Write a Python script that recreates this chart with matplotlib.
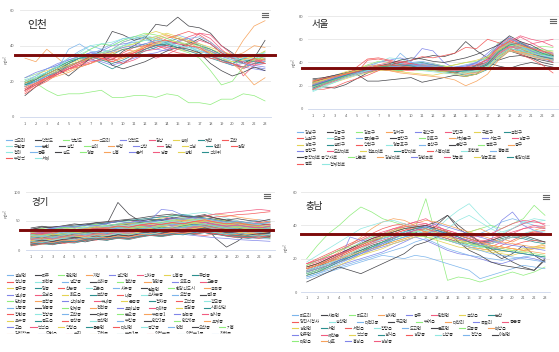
import matplotlib
matplotlib.use("Agg")
import matplotlib.pyplot as plt
from matplotlib.lines import Line2D
from matplotlib.patches import Rectangle

plt.rcParams['font.family'] = ['Noto Sans CJK KR', 'DejaVu Sans']

hours = list(range(1, 24))
palette = ['#7cb5ec', '#434348', '#90ed7d', '#f7a35c', '#8085e9',
           '#f15c80', '#e4d354', '#2b908f', '#f45b5b', '#91e8e1']
limit_value = 35

# ---------------- 인천 ----------------
incheon_names = ['석모리', '덕적도', '백령도', '석모리', '덕적도', '검상', '송해', '계산', '고잔',
                 '구월동', '논현', '송림', '숭의', '부평', '삼산', '검단', '석남', '연희', '원당',
                 '청라', '동춘', '송도', '영종', '신흥', '운서', '남동', '송현', '석바위',
                 '부평역', '서해']
incheon_values = [
    [18,22,25,29,33,37,40,38,36,40,43,44,45,42,46,44,41,38,35,33,31,30,30],
    [15,19,22,26,30,33,35,34,32,37,40,44,52,51,56,51,50,47,40,36,30,33,32],
    [21,19,15,12,13,13,14,15,11,11,12,12,11,13,12,8,8,7,10,10,13,12,9],
    [33,31,38,33,28,31,34,33,36,38,37,40,42,40,38,37,36,37,35,34,36,40,39],
    [20,23,27,30,32,34,36,37,40,41,42,40,38,37,43,44,40,36,33,30,28,27,26],
    [17,20,22,25,27,29,30,33,31,30,32,35,33,35,38,42,47,46,40,35,23,29,33],
    [22,24,26,28,30,32,34,36,38,42,44,46,48,46,44,42,40,38,36,35,34,33,32],
    [19,22,24,27,30,33,33,30,27,30,34,37,39,41,42,40,36,33,31,29,28,30,31],
    [14,18,21,24,27,28,30,33,32,36,39,40,40,38,36,35,34,33,32,30,27,30,35],
    [21,23,25,28,31,35,38,41,40,43,45,46,44,42,40,38,37,36,34,33,34,34,36],
    [17,21,24,27,38,41,37,36,38,42,44,45,43,41,40,39,37,35,32,30,31,32,31],
    [12,17,21,25,28,31,34,37,48,46,43,45,41,40,39,41,44,41,36,33,30,33,43],
    [18,20,23,26,29,31,35,36,37,40,41,43,44,42,38,36,33,26,18,20,28,32,37],
    [16,19,22,24,26,29,33,36,34,33,36,40,43,45,44,43,40,37,34,33,43,51,54],
    [17,20,23,26,29,31,32,31,29,31,33,35,36,38,39,40,38,35,32,29,30,28,27],
    [15,18,21,24,27,30,32,34,33,35,36,37,38,40,42,45,47,44,38,33,30,31,32],
    [20,22,23,26,28,31,33,35,37,39,41,44,45,47,45,43,41,39,37,35,33,32,33],
    [18,20,23,25,29,31,33,34,35,38,39,41,40,42,44,42,40,38,35,33,32,31,30],
    [13,17,20,24,27,30,33,35,33,30,34,38,41,44,46,48,46,42,37,34,33,32,30],
    [22,24,27,29,31,33,35,36,38,40,42,43,42,41,40,39,38,36,35,33,32,33,35],
    [17,20,23,25,28,31,35,38,41,44,45,44,41,39,42,44,45,42,37,33,35,34,33],
    [19,21,24,27,23,28,33,35,29,27,29,31,34,37,39,38,36,30,26,23,25,28,26],
    [20,22,25,28,31,34,38,41,40,43,45,47,46,44,42,41,40,37,33,31,30,32,34],
    [17,19,21,23,25,28,30,32,31,33,35,39,44,46,44,42,38,36,32,30,25,18,22],
    [22,25,27,29,32,34,36,35,37,39,40,41,43,42,41,40,39,37,34,32,30,29,28],
    [16,19,22,24,27,29,31,32,34,35,37,38,40,39,38,40,43,41,36,33,31,29,30],
    [19,21,24,27,29,31,33,35,36,34,37,39,41,43,42,40,39,36,33,31,32,34,37],
    [18,21,25,28,31,33,34,32,30,32,35,38,40,41,39,37,35,34,32,30,33,35,34],
    [15,18,22,25,28,31,34,33,31,34,36,39,42,43,41,40,39,35,31,30,28,33,30],
    [20,22,25,28,33,36,40,41,42,44,44,45,43,42,40,39,37,35,33,32,33,35,36],
]

# ---------------- 서울 ----------------
seoul_names = ['강남구', '강동구', '강북구', '강서구', '관악구', '광진구', '구로구', '금천구',
               '노원구', '도봉구', '동대문구', '동작구', '마포구', '서대문구', '서초구', '성동구',
               '성북구', '송파구', '양천구', '영등포구', '용산구', '은평구', '종로구', '중구',
               '중랑구', '도산대로', '천호대로', '공항대로', '시흥대로', '화랑로', '홍릉로',
               '동작대로 중앙차로', '신촌로', '강남대로', '강변북로', '정릉로', '영등포로', '한강대로',
               '종로', '청계천로']
seoul_values = [
    [20,24,27,30,33,35,36,37,38,36,35,34,33,35,36,38,42,55,58,52,48,45,43],
    [25,26,27,28,30,24,24,25,26,27,23,25,27,29,28,30,40,45,50,47,44,42,40],
    [18,22,26,30,34,38,41,40,38,36,37,38,36,34,33,35,45,57,61,56,52,54,53],
    [22,25,28,31,34,36,35,34,36,38,37,36,33,31,30,33,38,50,56,53,49,46,44],
    [19,23,27,30,33,37,40,42,44,41,52,50,40,35,33,31,36,48,55,50,46,43,41],
    [21,24,26,28,31,33,35,36,35,34,36,37,35,33,31,32,40,52,56,62,57,52,48],
    [24,27,29,32,35,37,38,36,35,37,38,39,37,35,33,34,37,45,52,50,47,44,43],
    [17,21,25,28,31,34,35,34,33,35,34,33,32,31,29,30,34,43,50,48,46,44,42],
    [19,23,26,28,31,42,43,41,39,38,36,35,34,33,32,34,41,53,59,56,52,48,46],
    [16,20,24,28,31,35,40,44,43,40,39,38,36,35,33,32,37,48,55,52,49,46,44],
    [22,25,28,31,33,35,37,38,39,40,41,39,37,36,34,35,38,47,54,51,48,45,43],
    [20,19,18,21,26,31,34,33,36,38,37,35,33,31,33,38,40,37,35,38,40,38,36],
    [21,24,27,30,32,34,36,37,36,35,36,38,37,35,33,34,39,52,60,57,53,51,50],
    [23,26,28,30,33,35,36,35,34,36,37,36,34,33,32,33,36,44,50,49,47,45,44],
    [18,22,26,29,32,34,36,37,38,37,36,35,34,36,37,39,42,50,57,55,50,46,42],
    [24,27,29,31,34,36,38,40,41,39,38,36,35,34,35,37,43,55,61,58,53,49,45],
    [17,20,23,26,29,31,33,34,32,31,30,29,31,30,28,30,35,45,52,50,48,47,46],
    [20,23,26,29,31,33,35,36,37,39,40,38,36,34,35,37,40,50,56,53,50,47,45],
    [19,22,25,28,36,43,44,42,40,39,38,37,36,35,34,33,38,47,53,52,48,45,40],
    [18,21,24,27,30,33,36,38,37,36,35,34,33,32,33,35,38,48,55,53,50,46,44],
    [23,26,29,31,33,35,37,38,39,37,36,35,34,36,38,40,44,52,57,54,50,48,47],
    [26,27,29,31,33,35,36,38,40,42,44,46,45,48,58,50,44,42,45,46,44,40,38],
    [22,25,27,29,31,33,35,34,33,35,36,37,35,33,31,32,37,49,55,52,49,47,46],
    [21,24,27,29,31,33,34,33,32,34,35,34,33,31,30,31,35,44,51,49,46,44,43],
    [19,23,26,29,31,33,35,36,35,37,39,38,36,35,36,40,48,56,62,56,50,46,43],
    [20,24,27,30,32,34,36,37,38,39,37,36,35,34,33,34,38,48,54,53,56,58,54],
    [24,26,28,30,33,35,37,38,36,35,34,33,32,33,34,36,40,50,57,55,51,48,46],
    [18,22,25,28,30,32,34,35,36,38,37,36,34,33,32,34,38,46,52,50,48,45,43],
    [17,17,19,23,26,29,33,37,40,42,45,44,46,48,53,52,60,57,52,47,43,38,31],
    [16,20,23,27,29,32,34,36,37,38,37,36,34,33,32,33,36,44,50,48,46,44,42],
    [20,23,26,29,31,33,35,36,48,40,38,37,35,34,35,36,40,51,57,54,51,48,46],
    [23,26,28,31,33,35,37,39,42,44,43,41,40,42,44,47,51,55,63,58,55,50,46],
    [19,22,25,28,31,34,36,37,38,36,35,34,36,38,40,41,44,52,58,55,51,48,47],
    [22,25,28,30,33,34,35,33,31,30,29,28,27,25,20,24,30,42,50,48,45,43,42],
    [21,24,27,29,31,33,35,36,37,38,37,36,35,36,37,40,46,54,60,57,53,50,48],
    [17,21,24,27,30,32,34,35,34,33,34,35,34,33,34,36,41,52,58,63,60,58,60],
    [23,25,28,31,33,35,37,36,35,34,33,35,36,38,40,42,45,51,56,54,52,50,49],
    [20,23,26,29,32,34,36,37,38,37,35,34,33,32,33,35,39,49,55,57,52,48,45],
    [24,26,28,30,32,35,37,38,37,36,35,34,33,34,36,38,43,53,58,55,52,50,47],
    [15,19,23,27,30,33,35,36,35,34,33,32,31,30,31,33,37,46,52,50,48,46,45],
]

# ---------------- 경기 ----------------
gyeonggi_names = ['설성면', '파주', '관인면', '가평', '설악면', '식사동', '신흥동', '주엽동',
                  '행신동', '과천동', '별양동', '소하동', '철산동', '경안동', '오포읍', '교문동',
                  '동구동', '당동', '산본동', '고촌읍', '사우동', '월곶면', '한강신도시', '금곡동',
                  '별내동', '오남읍', '화도읍', '보산동', '내동', '소사본동', '오정동', '중2동',
                  '단대동', '복정동', '상대원동', '수내동', '운중동', '정자동', '고색동', '광교동',
                  '신풍동', '영통동', '인계동', '천천동', '호매실동', '대야동', '목감동', '시화산단',
                  '장현동', '정왕동', '고잔동', '대부동', '본오동', '부곡동1', '원곡동', '원시동',
                  '호수동', '공도읍', '봉산동', '죽산면', '부림동', '안양2동', '안양6동', '호계동',
                  '고읍', '백석읍', '양평읍', '용문면', '대신면', '중앙동', '연천', '오산동', '기흥',
                  '김량장동', '모현읍', '수지', '고천동', '부곡3동', '의정부동', '의정부1동', '창전동']
gyeonggi_values = [
    [28,30,27,25,29,33,35,38,40,42,45,48,52,50,47,45,43,40,36,33,35,38,40],
    [35,40,38,36,34,38,42,45,82,62,50,48,52,56,48,45,42,20,5,15,28,33,38],
    [15,18,20,22,24,26,28,25,23,27,30,33,35,38,40,42,38,32,28,26,24,22,20],
    [20,22,25,27,30,33,35,36,38,40,43,45,48,50,52,55,58,62,60,57,54,52,48],
    [10,12,15,17,20,21,24,26,27,30,31,34,36,37,40,41,44,42,39,38,35,34,31],
    [30,32,35,38,40,43,45,48,50,47,52,55,58,54,52,50,48,45,42,40,43,47,50],
    [25,27,29,31,33,36,38,40,43,45,47,50,55,60,58,55,53,50,48,46,44,42,40],
    [22,24,26,29,30,32,35,37,39,41,43,45,47,45,43,41,39,37,35,33,31,30,32],
    [18,20,22,25,26,28,30,33,34,36,38,41,42,44,46,48,50,47,44,41,38,36,34],
    [32,34,37,38,40,42,44,47,48,50,52,54,57,58,60,63,65,60,55,50,45,42,40],
    [12,14,17,18,20,23,24,26,29,30,32,35,36,38,41,42,44,46,45,43,40,38,36],
    [26,28,31,33,34,37,40,41,44,46,47,50,53,54,55,58,61,55,51,48,46,44,43],
    [8,10,12,15,17,19,22,24,26,28,31,33,35,37,39,41,43,40,37,34,31,29,27],
    [14,17,19,21,24,27,29,32,34,36,39,41,44,46,48,50,52,49,46,43,40,38,36],
    [20,22,24,26,28,30,32,34,36,37,35,33,31,29,27,25,23,21,20,18,17,16,15],
    [24,26,29,31,33,35,37,40,42,44,47,49,51,53,55,57,59,62,64,66,68,70,68],
    [11,13,15,18,21,23,26,28,30,32,34,36,38,37,35,33,31,29,27,25,23,22,21],
    [30,28,26,28,31,34,37,40,42,45,47,50,52,48,45,42,40,38,36,34,32,33,35],
    [22,20,23,26,29,31,34,36,39,40,42,45,46,48,51,52,54,57,58,61,62,64,66],
    [17,19,22,25,27,30,32,35,38,41,43,47,50,52,56,54,50,46,44,41,37,35,33],
    [9,11,14,17,19,22,24,26,29,31,33,36,38,37,35,33,30,28,25,23,21,20,19],
    [36,38,40,41,43,45,47,49,51,53,55,58,60,62,59,57,55,53,51,49,47,45,44],
    [16,18,21,22,24,27,28,30,33,35,36,39,42,43,45,46,49,47,44,43,41,39,36],
    [13,15,18,20,22,25,27,30,32,34,37,39,42,44,46,44,42,40,38,36,34,32,30],
    [27,29,31,33,35,38,40,42,45,47,50,52,70,68,60,55,50,48,46,44,42,40,38],
    [10,12,14,16,18,21,23,25,27,30,32,34,36,38,40,42,44,43,42,41,40,39,38],
    [19,21,23,25,27,29,31,33,35,37,39,41,43,45,47,49,51,53,50,47,44,41,38],
    [33,35,37,39,41,43,45,47,49,51,53,55,57,59,61,58,55,52,49,46,43,40,37],
    [7,10,12,11,15,18,17,22,21,24,26,25,28,31,30,27,25,28,24,21,22,20,23],
    [21,24,22,27,30,28,33,31,35,38,36,40,43,41,44,42,45,40,37,35,38,34,36],
    [29,31,28,33,36,34,38,41,39,43,46,44,47,50,48,45,43,46,42,39,41,44,40],
    [12,15,13,18,17,21,24,22,26,25,29,31,28,33,35,32,30,27,29,26,24,27,25],
    [18,16,21,20,24,27,25,29,32,30,34,37,35,38,40,43,41,37,34,36,33,31,35],
    [24,27,25,28,32,30,33,36,34,38,40,37,41,44,42,46,48,44,40,42,39,37,41],
    [15,13,18,21,19,23,26,24,27,30,28,31,34,32,36,38,35,32,29,31,28,26,29],
    [31,34,32,30,35,38,36,39,42,40,44,41,45,48,46,43,47,50,46,43,45,48,44],
    [11,14,12,16,19,17,20,23,21,25,24,27,30,28,31,34,32,29,27,24,26,23,25],
    [20,18,23,26,24,27,30,28,32,35,33,36,39,37,40,38,41,37,34,32,35,33,30],
    [26,29,27,31,29,33,35,33,37,35,39,42,40,43,41,45,47,43,40,38,41,39,37],
    [14,17,15,19,22,20,24,27,25,28,31,29,33,36,34,37,35,32,30,27,29,31,28],
    [35,33,37,36,40,38,42,45,43,47,45,48,51,49,53,50,54,51,47,45,48,52,50],
    [9,12,10,13,16,14,18,17,21,20,23,26,24,27,30,28,31,29,26,24,22,25,23],
    [23,21,25,28,26,30,29,33,31,35,38,36,39,37,41,44,42,39,36,38,35,33,36],
    [17,20,18,22,25,23,27,26,30,33,31,34,32,36,39,37,40,36,33,31,28,30,32],
    [28,30,33,31,34,37,35,39,37,41,44,42,45,43,47,45,48,44,41,43,40,38,42],
    [13,11,15,18,16,20,19,23,26,24,27,25,29,32,30,33,31,28,25,27,24,22,25],
    [32,35,33,36,39,37,41,39,43,46,44,47,45,49,52,50,53,48,45,47,44,46,49],
    [19,22,20,24,23,27,30,28,31,29,33,36,34,37,35,39,42,38,35,33,30,32,34],
    [10,13,11,15,18,16,20,19,23,22,26,29,27,30,28,32,35,31,28,26,23,25,27],
    [25,23,27,30,28,32,31,34,37,35,39,38,41,44,42,46,44,40,37,39,36,34,37],
    [15,18,16,20,19,22,25,24,27,30,28,31,29,33,36,34,37,33,30,28,31,29,27],
    [38,41,39,42,45,43,47,46,49,52,50,53,51,55,58,56,59,55,52,54,51,49,53],
    [21,19,24,22,26,29,27,31,30,33,36,34,38,36,40,43,41,37,35,32,34,37,35],
    [12,15,13,17,16,20,22,21,24,27,25,28,26,30,33,31,34,30,27,25,22,24,26],
    [27,30,28,32,35,33,36,34,38,41,39,42,45,43,46,44,48,44,41,43,40,38,41],
    [16,14,18,21,19,23,22,26,29,27,30,33,31,34,32,36,39,35,32,30,27,29,31],
    [30,33,31,34,32,36,39,37,40,43,41,44,42,46,49,47,50,46,43,45,42,40,43],
    [8,11,9,13,12,16,19,17,20,18,22,25,23,26,29,27,30,27,24,22,20,23,21],
    [22,20,25,23,27,30,28,31,34,32,35,33,37,40,38,41,39,36,33,35,32,30,33],
    [18,21,19,23,26,24,28,27,31,29,33,36,34,37,35,39,42,38,35,33,30,32,34],
    [26,24,28,31,29,33,32,36,39,37,40,38,42,45,43,46,44,41,38,40,37,35,38],
    [13,16,14,18,21,19,23,22,26,24,28,31,29,32,30,34,37,33,30,28,25,27,29],
    [34,37,35,39,37,41,44,42,45,48,46,49,47,51,54,52,55,51,48,50,47,45,48],
    [20,18,22,25,23,27,26,30,33,31,34,32,36,39,37,40,38,35,32,34,31,29,32],
    [11,14,12,16,15,19,22,20,23,21,25,28,26,29,32,30,33,30,27,25,22,24,26],
    [29,27,31,34,32,36,35,39,42,40,43,41,45,48,46,49,47,44,41,43,40,38,41],
    [16,19,17,21,24,22,26,25,29,27,31,34,32,35,33,37,40,36,33,31,28,30,32],
    [23,21,26,24,28,31,29,33,32,35,38,36,40,38,42,45,43,39,36,38,35,33,36],
    [9,12,10,14,13,17,20,18,21,19,23,26,24,27,30,28,31,28,25,23,21,24,22],
    [31,34,32,36,35,39,42,40,43,41,45,48,46,49,47,51,54,50,47,49,46,44,47],
    [19,17,22,20,24,27,25,29,28,32,35,33,37,35,39,42,40,36,33,35,32,30,33],
    [14,17,15,19,22,20,24,23,27,25,29,32,30,33,31,35,38,34,31,29,26,28,30],
    [27,25,29,32,30,34,33,37,40,38,41,39,43,46,44,47,45,42,39,41,38,36,39],
    [12,15,13,17,16,20,23,21,24,22,26,29,27,30,28,32,35,31,28,26,24,27,25],
    [36,34,38,41,39,43,42,46,49,47,50,48,52,55,53,56,54,51,48,50,47,45,48],
    [18,21,19,23,26,24,28,27,31,29,33,36,34,37,35,39,42,38,35,33,31,34,32],
    [24,22,27,25,29,32,30,34,33,36,39,37,41,39,43,46,44,40,37,39,36,34,37],
    [10,13,11,15,14,18,21,19,22,20,24,27,25,28,26,30,33,30,27,25,23,26,24],
    [28,31,29,33,36,34,38,37,41,39,43,46,44,47,45,49,52,48,45,47,44,42,45],
    [15,13,17,20,18,22,21,25,28,26,29,27,31,34,32,35,33,30,27,29,26,24,27],
    [21,24,22,26,29,27,31,30,34,32,36,39,37,40,38,42,45,41,38,36,33,35,38],
]

# ---------------- 충남 ----------------
chungnam_names = ['파도리', '사곡면', '파도리', '성사면', '공주', '탄천면', '금산읍', '논산',
                  '당진시청사', '송산면', '대천2동', '주교면', '부여읍', '대산리', '독곶리', '동문동',
                  '성연면', '서면', '서천읍', '장항읍', '도고면', '둔포면', '모종동', '배방읍',
                  '인주면', '예산군', '백석동', '성거읍', '성황동', '신방동', '청양읍', '이원면',
                  '태안읍', '내포', '홍성읍', '성성동']
chungnam_values = [
    [12,15,18,22,26,30,33,35,36,38,40,39,37,36,34,33,35,38,42,44,42,40,38],
    [13,15,18,20,23,25,28,30,32,35,36,33,40,46,38,34,30,26,22,18,15,13,20],
    [20,28,35,40,46,51,48,44,42,40,38,56,32,7,9,8,6,8,10,12,10,12,15],
    [15,17,20,24,28,33,38,42,44,43,40,38,35,33,34,36,38,35,32,30,33,37,39],
    [10,12,14,16,18,20,22,24,27,30,33,31,28,25,23,22,20,18,17,19,21,20,18],
    [16,18,21,23,26,29,32,34,37,40,42,44,40,36,33,30,28,27,30,35,38,40,39],
    [14,16,18,21,24,27,30,33,36,38,39,37,35,33,31,30,29,28,27,26,25,27,29],
    [11,13,16,19,22,25,27,29,32,35,37,38,36,34,32,30,29,30,32,34,33,31,30],
    [17,20,23,26,29,32,35,38,40,41,39,36,33,31,29,27,26,25,28,31,34,36,37],
    [12,14,17,20,23,26,29,31,33,34,36,37,38,44,49,53,46,40,36,38,41,42,43],
    [9,11,13,15,17,19,21,23,25,27,30,32,29,26,24,22,21,20,19,20,21,22,21],
    [14,16,19,22,25,28,31,32,34,36,38,40,42,46,40,35,30,24,20,23,28,22,18],
    [16,19,22,25,28,31,33,35,37,39,40,38,36,35,34,36,38,40,38,41,44,52,46],
    [13,15,17,20,23,26,29,33,36,39,41,43,42,40,38,36,34,32,30,29,28,27,28],
    [11,13,15,18,33,31,30,32,34,36,38,40,37,34,32,30,28,31,43,48,40,37,35],
    [15,17,20,23,26,29,32,35,38,40,42,41,39,37,35,33,31,30,34,38,41,43,40],
    [10,12,14,16,19,22,25,28,30,32,34,33,31,29,27,26,25,24,23,22,24,26,27],
    [12,14,16,19,21,24,26,28,31,33,35,36,34,32,30,28,27,29,31,33,32,30,29],
    [14,16,18,21,24,27,30,33,35,37,38,36,34,32,30,29,28,27,26,28,30,31,30],
    [18,22,26,30,34,38,40,42,43,41,39,37,35,38,43,46,42,38,35,38,42,44,43],
    [8,10,12,14,16,18,20,22,21,20,22,21,19,17,15,13,8,10,12,14,16,15,14],
    [6,9,12,15,13,11,14,17,20,23,28,30,33,36,30,25,22,18,16,15,14,13,19],
    [11,13,15,18,21,24,27,30,32,34,36,38,36,34,31,29,27,26,25,24,23,22,21],
    [15,17,19,22,25,28,31,34,37,40,38,36,34,33,31,30,29,28,27,26,25,26,27],
    [13,15,17,19,21,23,25,27,29,31,33,35,37,35,33,31,29,27,25,24,23,22,20],
    [17,19,22,25,28,31,34,36,38,39,40,41,39,37,35,34,33,35,38,41,43,42,41],
    [12,14,16,18,20,22,24,26,29,31,33,34,33,31,29,27,26,25,24,25,26,27,26],
    [10,12,15,18,21,24,27,30,33,36,38,39,37,35,33,30,28,26,25,24,23,22,21],
    [14,16,19,22,25,28,31,33,35,37,39,40,38,36,34,32,30,29,31,33,35,36,35],
    [13,15,17,20,23,26,29,32,34,36,37,35,33,31,29,28,27,29,31,33,35,37,36],
    [9,11,14,17,20,23,26,29,31,33,34,35,33,31,29,27,25,23,22,21,20,19,18],
    [15,17,20,23,26,29,32,34,36,38,39,40,38,36,34,32,30,31,33,35,34,32,30],
    [16,19,22,25,27,29,31,33,34,35,34,33,32,31,30,29,28,27,26,25,24,23,22],
    [14,16,18,20,22,24,26,28,30,32,34,36,38,36,34,32,30,28,27,26,25,24,23],
    [12,14,16,18,20,23,26,29,32,35,37,39,41,39,37,35,33,31,29,28,27,26,25],
    [17,19,21,23,25,27,29,31,33,35,37,38,36,34,32,31,30,32,34,36,38,39,38],
]

# ---------------- drawing ----------------
W, H = 559, 352
fig = plt.figure(figsize=(W / 100, H / 100), dpi=100)
renderer = fig.canvas.get_renderer()


def fx(x):
    return x / W


def fy(y):
    return 1 - y / H


def panel(title, names, values, ymax, yticks, box, title_xy, title_size,
          menu_xy, unit_xy, leg_x0, leg_y0, leg_dy, leg_rows, leg_gap,
          xpad, ypad, red_span):
    l, t, r, b = box
    ax = fig.add_axes([fx(l), fy(b), (r - l) / W, (b - t) / H])
    for i, v in enumerate(values):
        ax.plot(hours, v, color=palette[i % 10], lw=0.5, solid_joinstyle='round', zorder=2)
    ax.axhline(limit_value, xmin=red_span[0], xmax=red_span[1], color='#7d0a0a',
               lw=2.1, clip_on=False, zorder=6)
    ax.set_xlim(0.5, 23.5)
    ax.set_ylim(0, ymax)
    ax.set_xticks(hours)
    ax.set_yticks(yticks)
    ax.tick_params(length=0, labelsize=2.9, labelcolor='#666666')
    ax.tick_params(axis='x', pad=xpad)
    ax.tick_params(axis='y', pad=ypad)
    for s in ['top', 'right', 'left']:
        ax.spines[s].set_visible(False)
    ax.spines['bottom'].set_color('#ccd6eb')
    ax.spines['bottom'].set_linewidth(0.6)
    ax.grid(axis='y', color='#e6e6e6', lw=0.6)
    ax.set_axisbelow(True)
    ax.patch.set_alpha(0)

    fig.text(fx(title_xy[0]), fy(title_xy[1]), title, fontsize=title_size,
             color='#222222', ha='left', va='center')
    fig.text(fx(unit_xy[0]), fy(unit_xy[1]), '㎍/㎥', fontsize=2.6, color='#666666',
             rotation=90, ha='center', va='center')
    mx, my = menu_xy
    for dy in (-2, 0, 2):
        fig.add_artist(Line2D([fx(mx - 3), fx(mx + 3)], [fy(my + dy), fy(my + dy)],
                              color='#666666', lw=0.8))

    k = 0
    for row, count in enumerate(leg_rows):
        x = leg_x0
        y = leg_y0 + row * leg_dy
        for _ in range(count):
            if k >= len(names):
                break
            c = palette[k % 10]
            fig.add_artist(Line2D([fx(x), fx(x + 6)], [fy(y), fy(y)], color=c, lw=0.8))
            txt = fig.text(fx(x + 7.5), fy(y), names[k], fontsize=3.1, color='#333333',
                           ha='left', va='center')
            w = txt.get_window_extent(renderer).width
            x += 7.5 + w + leg_gap
            k += 1
    return ax


panel('인천', incheon_names, incheon_values, 60, [0, 20, 40, 60],
      (19.5, 10, 270.5, 117), (27, 25), 7.8, (265, 15), (5, 60),
      6, 140, 6, [9, 10, 9, 2], 9, 3.4, 3.8, (-0.018, 1.018))

panel('서울', seoul_names, seoul_values, 80, [0, 20, 40, 60, 80],
      (307.5, 16, 558.5, 109), (312, 25), 6.8, (553, 21), (293, 63),
      297, 132, 6.3, [8, 8, 8, 7, 7, 2], 10, 3.4, 3.0, (-0.022, 1.0))

panel('경기', gyeonggi_names, gyeonggi_values, 100, [0, 50, 100],
      (25.6, 192, 275.4, 250), (31, 202), 6.8, (267, 195.5), (5, 214),
      7, 275.3, 6.5, [8, 8, 8, 8, 8, 8, 8, 8, 9, 8], 8, 3.4, 3.8, (-0.022, 0.99))

panel('충남', chungnam_names, chungnam_values, 60, [0, 20, 40, 60],
      (301.3, 192, 550.4, 292), (305, 206), 6.8, (546, 197), (285, 248),
      292, 315.3, 6.5, [8, 8, 8, 8, 4], 9, 2.6, 3.0, (0.0, 1.0))

# the Gyeonggi legend is cut off at the bottom of its screenshot
fig.add_artist(Rectangle((0, 0), fx(282), fy(333.5), transform=fig.transFigure,
                         facecolor='white', edgecolor='none', zorder=20))

fig.savefig('out.png', dpi=100, facecolor='white')
